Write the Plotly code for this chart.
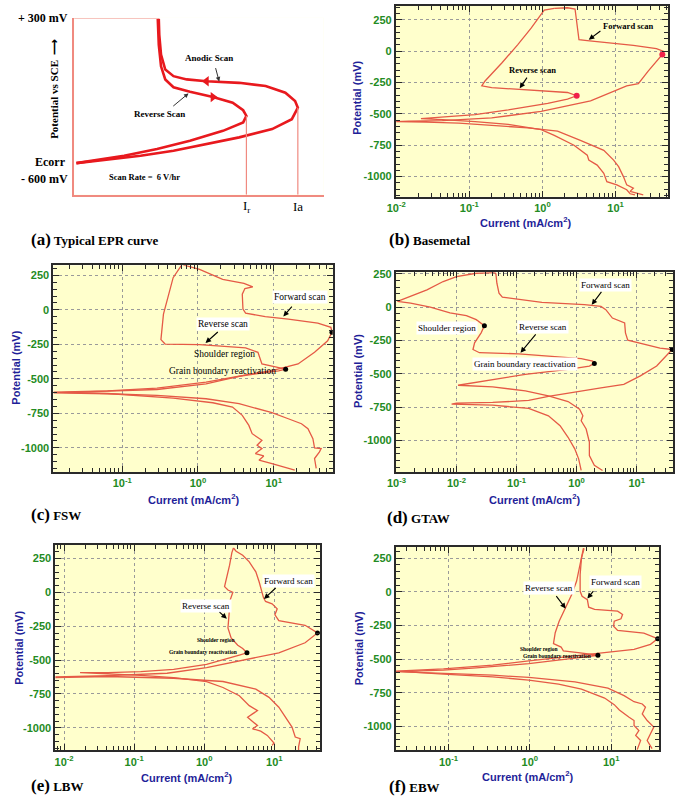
import numpy as np
import plotly.graph_objects as go

W, H = 685, 800
SERIF = "Liberation Serif"
SANS = "Liberation Sans"
CURVE = "#e55a46"
TICKGREEN = "#238b23"
TITLEBLUE = "#1f1f99"
FRAME = "#2a2a2a"

# ---------------- Panel (a): schematic EPR curve (arbitrary current units, mV) ----------------
a_anodic_i = [0.9, 13.4, 26.6, 39.8, 53.0, 66.1, 79.3, 87.2, 89.6, 88.5, 84.6, 76.7, 66.1, 53.0, 45.1, 39.8, 36.5, 34.8, 34.1, 33.9]
a_anodic_e = [-595, -573, -549, -518, -477, -436, -385, -324, -253, -212, -161, -120, -100, -90, -79, -59, -18, 74, 196, 294]
a_reverse_i = [33.5, 33.9, 34.8, 36.5, 39.8, 46.4, 55.6, 63.5, 67.7, 69.0, 67.7, 59.6, 46.4, 33.2, 20.0, 6.8, 0.9]
a_reverse_e = [294, 135, 2, -79, -127, -155, -188, -222, -269, -304, -344, -396, -457, -508, -549, -579, -595]
a_top_mv = 300

# ---------------- Panel (b): Basemetal ----------------
b_fwd_i = [23.9, 15.8, 17.5, 14.2, 12.8, 11.0, 9.4, 6.9, 3.3, 1.61, 0.63, 0.20, 0.072, 0.0254, 0.01,
           0.015, 0.0428, 0.202, 0.96, 4.55, 14.2, 20.5, 27.9, 38.1, 43.6, 44.6, 36.2, 17.5, 7.6, 4.1, 3.16,
           3.06, 2.94, 2.79, 2.2, 1.45]
b_fwd_e = [-1145, -1118, -1092, -1066, -1000, -921, -868, -790, -711, -637, -611, -590, -574, -566, -561,
           -558, -553, -532, -479, -395, -276, -258, -158, -66, -26, 0, 21, 47, 66, 84, 92,
           158, 263, 337, 347, 342]
b_rev_i = [1.45, 1.06, 0.98, 0.70, 0.46, 0.28, 0.164, 0.148, 0.202, 0.46, 1.18, 2.2, 2.94, 2.2, 1.18, 0.34,
           0.12, 0.043, 0.0218, 0.043, 0.12, 0.34, 0.96, 1.45, 2.7, 4.1, 4.3, 5.6, 6.9, 7.6, 10.4, 14.2, 15.8, 18.4]
b_rev_e = [342, 329, 303, 184, 53, -92, -237, -276, -290, -303, -316, -329, -355, -382, -416, -468,
           -505, -526, -537, -545, -561, -584, -626, -671, -750, -829, -868, -908, -974, -1040, -1066, -1105, -1137, -1145]
b_dot_i = [43.6, 2.94]
b_dot_e = [-26, -355]

# ---------------- Panel (c): FSW ----------------
c_fwd_i = [36.5, 34.7, 40.3, 42.4, 34.7, 33.0, 28.4, 23.3, 15.6, 9.5, 3.49, 1.28, 0.287, 0.064, 0.0123,
           0.064, 0.287, 1.28, 4.26, 9.5, 21.0, 34.7, 51.7, 58.9, 57.1, 38.3, 15.6, 7.75, 4.26, 3.93,
           3.85, 4.17, 5.3, 4.05, 2.12, 1.05, 0.64]
c_fwd_e = [-1149, -1077, -1029, -1005, -1000, -933, -861, -825, -789, -745, -680, -644, -620, -608, -601,
           -591, -577, -536, -471, -440, -392, -308, -224, -163, -127, -96, -67, -50, -24, 5,
           113, 154, 166, 192, 221, 293, 325]
c_rev_i = [0.61, 0.47, 0.35, 0.324, 0.368, 1.05, 4.26, 6.2, 7.0, 10.5, 14.4, 11.6, 3.49, 1.28, 0.287, 0.064, 0.0123,
           0.064, 0.47, 1.57, 2.86, 3.85, 4.7, 5.2, 7.0, 6.04, 7.0, 5.74, 7.4, 6.4, 9.5, 19.0]
c_rev_e = [325, 233, -31, -216, -248, -252, -276, -308, -392, -416, -430, -442, -481, -524, -567, -587, -596,
           -606, -639, -673, -704, -764, -837, -897, -945, -981, -1005, -1041, -1058, -1089, -1113, -1161]
c_dot_i = [58.9, 14.4]
c_dot_e = [-163, -430]

# ---------------- Panel (d): GTAW ----------------
d_fwd_i = [1.19, 1.08, 0.93, 0.72, 0.53, 0.339, 0.159, 0.040, 0.00828,
           0.01, 0.040, 0.159, 0.339, 0.93, 2.54, 6.1, 11.5, 21.5, 35.6, 38.9, 24.4, 13.0, 7.1, 6.5, 6.3,
           3.94, 3.06, 2.54, 1.35, 0.264, 0.058, 0.051, 0.047, 0.0453, 0.043]
d_fwd_e = [-1224, -1137, -1062, -975, -888, -814, -759, -734, -727,
           -719, -714, -699, -669, -635, -605, -578, -515, -441, -341, -317, -307, -279, -247, -192, -118,
           -81, -18, 6, 19, 36, 76, 106, 180, 250, 260]
d_rev_i = [0.043, 0.0213, 0.01, 0.0060, 0.00322, 0.00195, 0.00118, 0.00104, 0.00172, 0.00366, 0.00778, 0.0146,
           0.0213, 0.0291, 0.0257, 0.02, 0.0188, 0.0241, 0.109, 0.494, 1.19, 1.85, 1.97, 1.63, 0.72, 0.14, 0.0274,
           0.0106, 0.040, 0.14, 0.339, 0.72, 1.12, 1.27, 1.19, 1.44, 1.63, 1.63, 1.97, 2.7]
d_rev_e = [260, 255, 230, 193, 131, 93, 56, 44, 31, 1, -43, -63,
           -93, -138, -192, -267, -317, -341, -349, -371, -386, -404, -421, -441, -466, -503, -553,
           -585, -597, -627, -664, -707, -764, -814, -851, -913, -1012, -1112, -1186, -1224]
d_dot_i = [38.9, 0.0291, 1.97]
d_dot_e = [-317, -138, -421]

# ---------------- Panel (e): LBW ----------------
e_fwd_i = [22.2, 22.2, 23.4, 19.9, 17.9, 14.4, 11.6, 8.4, 5.45, 1.85, 0.366, 0.0423, 0.00752,
           0.00752, 0.0423, 0.295, 1.08, 3.17, 11.6, 27.5, 38.0, 41.4, 27.5, 11.6, 10.2, 11.0, 9.3, 7.5,
           7.0, 6.6, 6.07, 5.45, 4.39, 3.54, 2.85, 2.61]
e_fwd_e = [-1166, -1141, -1080, -1068, -995, -922, -848, -775, -714, -658, -634, -621, -629,
           -624, -614, -597, -556, -507, -446, -372, -319, -299, -243, -209, -165, -121, -84, -67,
           -38, 18, 79, 152, 226, 274, 304, 328]
e_rev_i = [2.61, 2.48, 2.30, 2.06, 1.95, 2.18, 2.56, 2.35, 2.25, 2.18, 2.42, 3.01, 3.54, 4.07, 3.17, 1.08, 0.366,
           0.124, 0.0423, 0.0169, 0.0423, 0.124, 0.366, 1.08, 1.85, 3.17, 4.39, 5.75, 4.89, 4.16, 4.89, 5.75,
           4.89, 6.4, 7.94, 9.3, 9.9, 9.3]
e_rev_e = [328, 294, 201, 104, 43, 18, 1, -55, -153, -263, -336, -390, -414, -446, -463, -531, -568,
           -585, -592, -592, -602, -612, -629, -658, -702, -763, -836, -873, -897, -922, -953, -983,
           -1007, -1024, -1056, -1093, -1112, -1129]
e_dot_i = [41.4, 4.07]
e_dot_e = [-299, -446]

# ---------------- Panel (f): EBW ----------------
f_fwd_i = [20.9, 23.0, 20.0, 21.9, 19.1, 19.1, 16.6, 14.4, 12.6, 10.9, 8.3, 4.31, 2.25, 0.97, 0.349, 0.0866, 0.0225,
           0.0225, 0.0866, 0.349, 0.97, 3.58, 9.1, 19.1, 30.4, 37.3, 25.2, 12.0, 10.7, 10.9, 13.2, 13.8, 12.0,
           6.25, 5.29, 5.09, 4.39, 4.15, 4.15, 4.31, 4.64]
f_fwd_e = [-1172, -1104, -1067, -1030, -993, -956, -931, -902, -877, -838, -789, -722, -685, -656, -631, -611, -594,
           -589, -572, -545, -513, -476, -451, -427, -390, -348, -306, -286, -255, -218, -200, -168, -144,
           -131, -114, -58, -33, 4, 127, 250, 324]
f_rev_i = [4.56, 4.11, 3.75, 3.26, 2.71, 2.29, 2.05, 1.95, 2.42, 2.58, 3.93, 6.86, 3.58, 0.97, 0.219, 0.0866, 0.0225,
           0.0866, 0.349, 0.97, 3.58, 9.1, 14.4, 19.1, 24.1, 26.4, 24.1, 27.7, 33.4, 30.4, 27.7, 31.8]
f_rev_e = [324, 201, 78, -21, -119, -218, -304, -385, -410, -439, -451, -471, -493, -533, -565, -582, -592,
           -604, -619, -636, -668, -715, -771, -816, -833, -857, -907, -956, -1005, -1054, -1104, -1165]
f_dot_i = [37.3, 6.86]
f_dot_e = [-348, -471]

y_ticks = [250, 0, -250, -500, -750, -1000]
y_ticktext = ["250", "0", "-250", "-500", "-750", "-1000"]

fig = go.Figure()

# ---------------- Panel (a) ----------------
fig.add_trace(go.Scatter(x=a_anodic_i, y=a_anodic_e, mode="lines", line=dict(color="#e8191e", width=2.6),
                         xaxis="x", yaxis="y", showlegend=False, hoverinfo="skip"))
fig.add_trace(go.Scatter(x=a_reverse_i, y=a_reverse_e, mode="lines", line=dict(color="#e8191e", width=2.6),
                         xaxis="x", yaxis="y", showlegend=False, hoverinfo="skip"))
fig.add_trace(go.Scatter(x=[a_anodic_i[13]], y=[a_anodic_e[13]], mode="markers",
                         marker=dict(symbol="triangle-left", size=9, color="#e8191e"),
                         xaxis="x", yaxis="y", showlegend=False, hoverinfo="skip"))
fig.add_trace(go.Scatter(x=[a_reverse_i[6]], y=[a_reverse_e[6]], mode="markers",
                         marker=dict(symbol="triangle-right", size=9, color="#e8191e"),
                         xaxis="x", yaxis="y", showlegend=False, hoverinfo="skip"))
a_ymin = -790
ia = max(a_anodic_i); ia_e = a_anodic_e[a_anodic_i.index(ia)]
ir = max(a_reverse_i); ir_e = a_reverse_e[a_reverse_i.index(ir)]
fig.add_trace(go.Scatter(x=[0, a_anodic_i[-1]], y=[a_top_mv, a_top_mv], mode="lines",
                         line=dict(color="#f08a80", width=1.3), xaxis="x", yaxis="y",
                         showlegend=False, hoverinfo="skip"))
for xv, ev in [(ia, ia_e), (ir, ir_e)]:
    fig.add_trace(go.Scatter(x=[xv, xv], y=[ev, a_ymin], mode="lines",
                             line=dict(color="#f08a80", width=1.2), xaxis="x", yaxis="y",
                             showlegend=False, hoverinfo="skip"))

def line_trace(xs, ys, n):
    return go.Scatter(x=xs, y=ys, mode="lines", line=dict(color=CURVE, width=1.3),
                      xaxis=f"x{n}", yaxis=f"y{n}", showlegend=False, hoverinfo="skip")

def dot_trace(xs, ys, n, color="black", size=5):
    return go.Scatter(x=xs, y=ys, mode="markers", marker=dict(color=color, size=size),
                      xaxis=f"x{n}", yaxis=f"y{n}", showlegend=False, hoverinfo="skip")

panel_series = {
    2: (b_fwd_i, b_fwd_e, b_rev_i, b_rev_e, b_dot_i, b_dot_e, "#f0204a", 6),
    3: (c_fwd_i, c_fwd_e, c_rev_i, c_rev_e, c_dot_i, c_dot_e, "black", 5),
    4: (d_fwd_i, d_fwd_e, d_rev_i, d_rev_e, d_dot_i, d_dot_e, "black", 5),
    5: (e_fwd_i, e_fwd_e, e_rev_i, e_rev_e, e_dot_i, e_dot_e, "black", 5),
    6: (f_fwd_i, f_fwd_e, f_rev_i, f_rev_e, f_dot_i, f_dot_e, "black", 5),
}
for n, (fi, fe, ri, re, di, de, dc, ds) in panel_series.items():
    fig.add_trace(line_trace(fi, fe, n))
    fig.add_trace(line_trace(ri, re, n))
    fig.add_trace(dot_trace(di, de, n, dc, ds))

# ---------------- axes layout ----------------
minor_vals = [k * 10.0 ** d for d in range(-4, 3) for k in range(2, 10)]
panel_geom = {
    2: (392, 668, 1, 193, (-2.005, 1.72), (-1161, 361), [0.01, 0.1, 1, 10]),
    3: (45, 328, 262, 470, (-1.91, 1.78), (-1175, 322), [0.1, 1, 10]),
    4: (392, 673, 269, 470, (-3.01, 1.607), (-1236, 262), [0.001, 0.01, 0.1, 1, 10]),
    5: (47, 315, 543, 750, (-2.124, 1.65), (-1166, 353), [0.01, 0.1, 1, 10]),
    6: (392, 659, 545, 750, (-1.648, 1.592), (-1177, 336), [0.1, 1, 10]),
}

layout_axes = {}
layout_axes["xaxis"] = dict(domain=[66 / W, 319 / W], anchor="y", range=[0, 100], showgrid=False,
                            zeroline=False, showticklabels=False, ticks="", showline=True,
                            linecolor="#f08a80", linewidth=1.5, fixedrange=True)
layout_axes["yaxis"] = dict(domain=[1 - 191 / H, 1 - 13 / H], anchor="x", range=[a_ymin, a_top_mv],
                            showgrid=False, zeroline=False, showticklabels=False, ticks="",
                            showline=True, linecolor="#f08a80", linewidth=1.5, fixedrange=True)

tickfont = dict(family=SANS, size=11, color=TICKGREEN, weight="bold")
for n, (x0, x1, y0, y1, xr, yr, xt) in panel_geom.items():
    layout_axes[f"xaxis{n}"] = dict(
        domain=[x0 / W, x1 / W], anchor=f"y{n}", type="log", range=list(xr),
        tickmode="array", tickvals=xt,
        ticktext=[f"10<sup>{int(round(np.log10(v)))}</sup>" for v in xt],
        showline=True, linecolor=FRAME, linewidth=2, mirror="allticks",
        ticks="inside", ticklen=6, tickwidth=1.3, tickcolor=FRAME,
        minor=dict(tickmode="array", tickvals=minor_vals, ticks="inside", ticklen=4,
                   tickwidth=1, tickcolor=FRAME, showgrid=False),
        showgrid=True, gridcolor="#9a9a9a", griddash="3px,3px", gridwidth=0.9,
        zeroline=False, tickfont=tickfont, fixedrange=True)
    layout_axes[f"yaxis{n}"] = dict(
        domain=[1 - y1 / H, 1 - y0 / H], anchor=f"x{n}", range=list(yr),
        tickmode="array", tickvals=y_ticks, ticktext=y_ticktext,
        showline=True, linecolor=FRAME, linewidth=2, mirror="allticks",
        ticks="inside", ticklen=6, tickwidth=1.3, tickcolor=FRAME,
        minor=dict(dtick=50, tick0=0, ticks="inside", ticklen=4, tickwidth=1,
                   tickcolor=FRAME, showgrid=False),
        showgrid=True, gridcolor="#9a9a9a", griddash="3px,3px", gridwidth=0.9,
        zeroline=False, tickfont=tickfont, fixedrange=True)

# ---------------- annotations ----------------
ann = []

def txt(text, x, y, xref="paper", yref="paper", size=10, family=SERIF, color="black",
        xanchor="center", yanchor="middle", bg=None, angle=0, bold=True):
    t = f"<b>{text}</b>" if bold else text
    d = dict(text=t, x=x, y=y, xref=xref, yref=yref, showarrow=False,
             font=dict(family=family, size=size, color=color),
             xanchor=xanchor, yanchor=yanchor, textangle=angle)
    if bg:
        d.update(bgcolor=bg, borderpad=1)
    ann.append(d)

def arrow(n, tip_logx, tip_y, tail_logx, tail_y, width=1.1, size=1.0):
    ann.append(dict(x=tip_logx, y=tip_y, ax=tail_logx, ay=tail_y,
                    xref=f"x{n}", yref=f"y{n}", axref=f"x{n}", ayref=f"y{n}",
                    showarrow=True, arrowhead=2, arrowsize=size, arrowwidth=width,
                    arrowcolor="black", text=""))

# panel a texts
txt("+ 300 mV", 62 / W, 1 - 13 / H, size=12, xanchor="right")
txt("Ecorr", 60 / W, 1 - 158 / H, size=12, xanchor="right")
txt("- 600 mV", 62 / W, 1 - 175 / H, size=12, xanchor="right")
txt("Potential vs SCE  \u27f6", 46 / W, 1 - 84 / H, size=11, angle=-90)
txt("Anodic Scan", 54.2, 55, xref="x", yref="y", size=9)
txt("Reverse Scan", 34.0, -294, xref="x", yref="y", size=9)
txt("Scan Rate =  6 V/hr", 28.1, -679, xref="x", yref="y", size=8.5)
txt("I<sub>r</sub>", ir, 1 - 203 / H, xref="x", size=13, bold=False)
txt("Ia", ia, 1 - 203 / H, xref="x", size=13, bold=False)
ann.append(dict(x=58.1, y=-92, ax=56.5, ay=0, xref="x", yref="y", axref="x", ayref="y",
                showarrow=True, arrowhead=2, arrowsize=0.9, arrowwidth=1, arrowcolor="#333", text=""))
ann.append(dict(x=45.8, y=-165, ax=39.1, ay=-251, xref="x", yref="y", axref="x", ayref="y",
                showarrow=True, arrowhead=2, arrowsize=0.9, arrowwidth=1, arrowcolor="#333", text=""))

# panel b
txt("Forward scan", 1.176, 205, xref="x2", yref="y2", size=8.5)
arrow(2, np.log10(4.3), 92, np.log10(6.5), 171)
txt("Reverse scan", -0.131, -153, xref="x2", yref="y2", size=8.5)
arrow(2, -0.311, -296, -0.198, -198)

# panel c
txt("Forward scan", 1.345, 94, xref="x3", yref="y3", size=9.5, bg="white", bold=False)
arrow(3, 1.128, -48, 1.258, 34)
txt("Reverse scan", 0.334, -103, xref="x3", yref="y3", size=9.5, bg="white", bold=False)
arrow(3, 0.10, -240, 0.282, -151)
txt("Shoulder region", 0.347, -320, xref="x3", yref="y3", size=9.5, bold=False)
txt("Grain boundary reactivation", 0.325, -440, xref="x3", yref="y3", size=9.5, bold=False)

# panel d
txt("Forward scan", 0.486, 168, xref="x4", yref="y4", size=9, bg="white", bold=False)
arrow(4, 0.251, 19, 0.432, 126)
txt("Shoulder region", -2.164, -155, xref="x4", yref="y4", size=9, bg="white", bold=False)
txt("Reverse scan", -0.552, -148, xref="x4", yref="y4", size=9, bg="white", bold=False)
arrow(4, -0.934, -341, -0.661, -192)
txt("Grain boundary reactivation", -0.863, -428, xref="x4", yref="y4", size=9, bg="white", bold=False)

# panel e
txt("Forward scan", 1.205, 84, xref="x5", yref="y5", size=9, bg="white", bold=False)
arrow(5, 0.853, -48, 1.041, 43)
txt("Reverse scan", 0.019, -99, xref="x5", yref="y5", size=9, bg="white", bold=False)
arrow(5, 0.323, -194, 0.197, -136)
txt("Shoulder region", 0.173, -348, xref="x5", yref="y5", size=5.5)
txt("Grain boundary reactivation", -0.014, -441, xref="x5", yref="y5", size=5.5)

# panel f
txt("Reverse scan", 0.238, 29, xref="x6", yref="y6", size=9, bg="white", bold=False)
arrow(6, 0.44, -124, 0.311, -21)
txt("Forward scan", 1.059, 73, xref="x6", yref="y6", size=9, bg="white", bold=False)
arrow(6, 0.707, -50, 0.796, 16)
txt("Shoulder region", 0.109, -422, xref="x6", yref="y6", size=5.5)
txt("Grain boundary reactivation", 0.331, -476, xref="x6", yref="y6", size=5.5)

# axis titles
ytitle = "Potential (mV)"
xtitle = "Current (mA/cm<sup>2</sup>)"
for (yx, yy, xx, xy) in [(353, 93, 523, 218), (7, 365, 187, 497), (353, 368, 532, 497),
                         (10, 647, 180, 777), (355, 647, 525, 776)]:
    txt(ytitle, yx / W, 1 - yy / H, size=11, family=SANS, color=TITLEBLUE, angle=-90)
    txt(xtitle, xx / W, 1 - xy / H, size=11, family=SANS, color=TITLEBLUE)

def caption(letter, name, x, y):
    ann.append(dict(text=f"<b><span style='font-size:17px'>({letter})</span> {name}</b>",
                    x=x / W, y=1 - y / H, xref="paper", yref="paper", showarrow=False,
                    xanchor="left", yanchor="middle", font=dict(family=SERIF, size=13, color="black")))

caption("a", "Typical EPR curve", 20, 236)
caption("b", "Basemetal", 383, 236)
caption("c", "FSW", 20, 513)
caption("d", "GTAW", 381, 516)
caption("e", "LBW", 20, 785)
caption("f", "EBW", 383, 786)

shapes = [dict(type="rect", xref="x domain", yref="y domain", x0=0, x1=1, y0=0, y1=1,
               fillcolor="white", line=dict(width=0), layer="below")]

fig.update_layout(width=W, height=H, margin=dict(l=0, r=0, t=0, b=0),
                  paper_bgcolor="white", plot_bgcolor="#ffffcc",
                  annotations=ann, shapes=shapes, showlegend=False, **layout_axes)

fig.write_html("out.html", config={"displayModeBar": False},
               post_script="document.body.style.margin='0';document.body.style.overflow='hidden';")
